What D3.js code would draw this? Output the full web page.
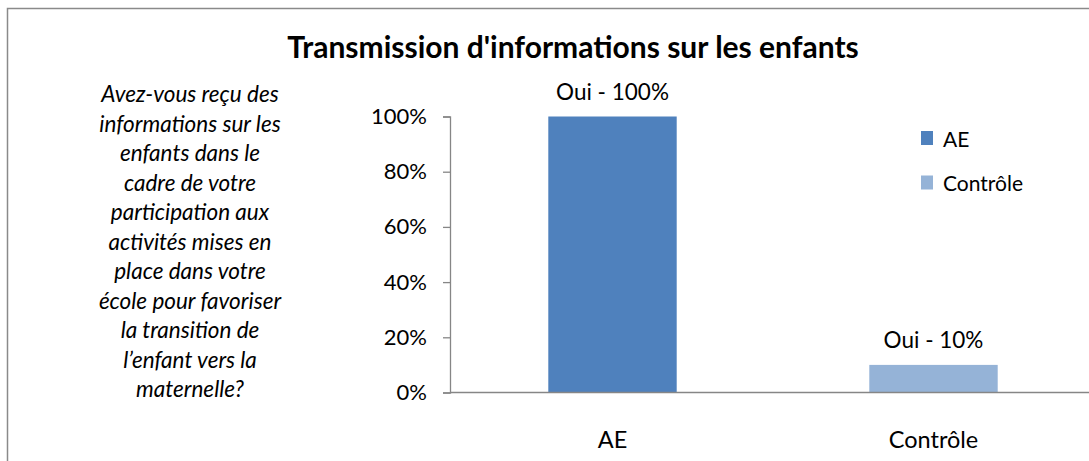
<!DOCTYPE html>
<html>
<head>
<meta charset="utf-8">
<script src="https://cdn.jsdelivr.net/npm/d3@7"></script>
<style>
  body { margin: 0; background: #fff; }
  svg { display: block; font-family: Lato, "Open Sans", sans-serif; }
</style>
</head>
<body>
<div class="chart"></div>
<script>
// data
var categories = ['AE', 'Contrôle'];
var values = [100, 10];
var barLabels = ['Oui - 100%', 'Oui - 10%'];
var yTicks = [0, 20, 40, 60, 80, 100];
var legendNames = ['AE', 'Contrôle'];
var title = "Transmission d'informations sur les enfants";
var questionLines = [
  'Avez-vous reçu des',
  'informations sur les',
  'enfants dans le',
  'cadre de votre',
  'participation aux',
  'activités mises en',
  'place dans votre',
  'école pour favoriser',
  'la transition de',
  'l\u2019enfant vers la',
  'maternelle?'
];

var colors = ['#4f81bd', '#95b3d7'];
var width = 1089, height = 461;

var svg = d3.select('.chart')
  .append('svg')
    .attr('width', width)
    .attr('height', height);

// outer frame of the chart area (cut off on the right and bottom)
svg.append('rect')
  .attr('x', 7.5)
  .attr('y', 8.5)
  .attr('width', 1200)
  .attr('height', 600)
  .attr('fill', '#fff')
  .attr('stroke', '#8a8a8a')
  .attr('stroke-width', 1.5);

// title
svg.append('text')
  .attr('x', 573)
  .attr('y', 58)
  .attr('text-anchor', 'middle')
  .style('font-size', '30px')
  .style('font-weight', 'bold')
  .text(title);

// question text on the left
svg.append('g')
  .selectAll('text')
  .data(questionLines)
  .enter().append('text')
    .attr('x', 190)
    .attr('y', function(d, i) { return 102 + i * 29.5; })
    .attr('text-anchor', 'middle')
    .style('font-size', '22.5px')
    .style('font-style', 'italic')
    .text(function(d) { return d; });

// scales
var x = d3.scaleBand()
  .domain(categories)
  .range([452, 1094])
  .paddingInner(0.6)
  .paddingOuter(0.3);

var y = d3.scaleLinear()
  .domain([0, 100])
  .range([392.5, 116.5]);

// y axis
var yAxis = svg.append('g')
  .attr('transform', 'translate(450,0)')
  .call(d3.axisLeft(y).tickValues(yTicks).tickSize(7).tickPadding(16)
    .tickFormat(function(d) { return d + '%'; }));
yAxis.selectAll('path, line').attr('stroke', '#868686').attr('stroke-width', 1.3);
yAxis.selectAll('text').style('font-size', '22px').style('font-family', 'Lato, sans-serif').attr('fill', '#000');

// bars
svg.selectAll('.bar')
  .data(values)
  .enter().append('rect')
    .attr('class', 'bar')
    .attr('x', function(d, i) { return x(categories[i]); })
    .attr('y', function(d) { return y(d); })
    .attr('width', x.bandwidth())
    .attr('height', function(d) { return y(0) - y(d); })
    .attr('fill', function(d, i) { return colors[i]; });

// x axis line, running to the right edge
svg.append('line')
  .attr('x1', 450)
  .attr('x2', width)
  .attr('y1', y(0))
  .attr('y2', y(0))
  .attr('stroke', '#868686')
  .attr('stroke-width', 1.3);

// category labels
svg.selectAll('.cat')
  .data(categories)
  .enter().append('text')
    .attr('class', 'cat')
    .attr('x', function(d) { return x(d) + x.bandwidth() / 2; })
    .attr('y', 448)
    .attr('text-anchor', 'middle')
    .style('font-size', '23.5px')
    .text(function(d) { return d; });

// value labels above bars
svg.selectAll('.val')
  .data(values)
  .enter().append('text')
    .attr('class', 'val')
    .attr('x', function(d, i) { return x(categories[i]) + x.bandwidth() / 2; })
    .attr('y', function(d) { return y(d) - 17; })
    .attr('text-anchor', 'middle')
    .style('font-size', '22.5px')
    .text(function(d, i) { return barLabels[i]; });

// legend
var legend = svg.selectAll('.legend')
  .data(legendNames)
  .enter().append('g')
    .attr('class', 'legend')
    .attr('transform', function(d, i) { return 'translate(921,' + (131 + i * 44.5) + ')'; });

legend.append('rect')
  .attr('width', 12)
  .attr('height', 14)
  .attr('fill', function(d, i) { return colors[i]; });

legend.append('text')
  .attr('x', 22)
  .attr('y', 15.5)
  .style('font-size', '21px')
  .text(function(d) { return d; });
</script>
</body>
</html>
